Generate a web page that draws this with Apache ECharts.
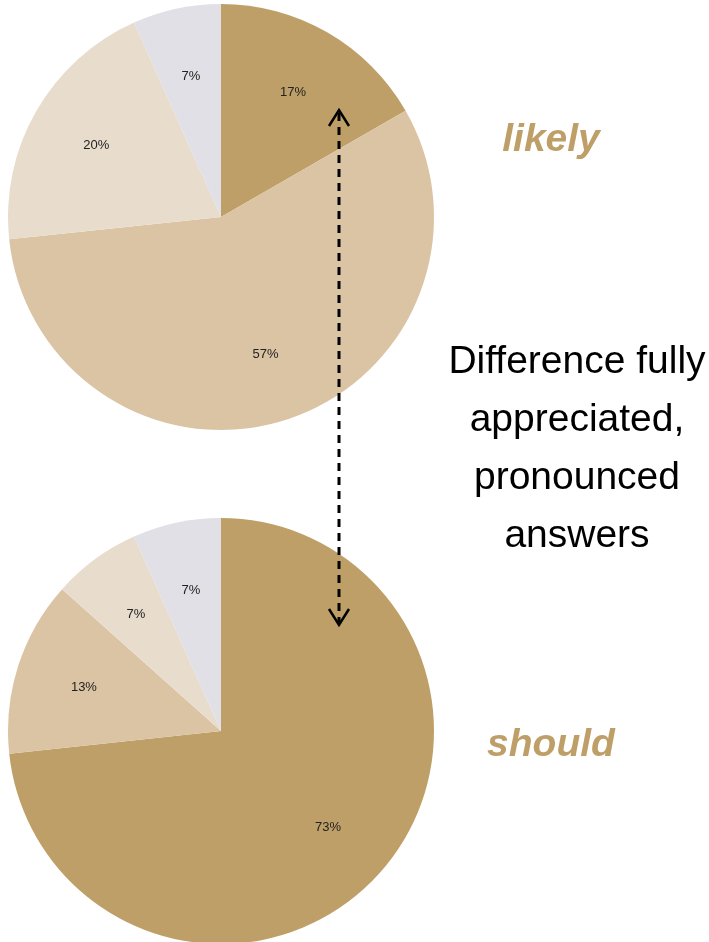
<!DOCTYPE html>
<html><head><meta charset="utf-8">
<script src="https://cdn.jsdelivr.net/npm/echarts@6/dist/echarts.min.js"></script>
<style>html,body{margin:0;padding:0;background:#fff}#c{width:709px;height:942px}</style>
</head><body><div id="c"></div>
<script>
const categories = ['A', 'B', 'C', 'D'];
const likelyValues = [16.7, 56.7, 20, 6.7];
const shouldValues = [73.3, 13.3, 6.7, 6.7];
const sliceColors = ['#BF9F68', '#DBC4A4', '#E8DCCD', '#E0E0E6'];
const noteLines = ['Difference fully', 'appreciated,', 'pronounced', 'answers'];
const titles = ['likely', 'should'];

const chart = echarts.init(document.getElementById('c'));
function pieSeries(vals, cy) {
  return {
    type: 'pie', center: [221, cy], radius: [0, 213], startAngle: 90, clockwise: true,
    animation: false, silent: true, z: 1,
    label: { show: false },
    labelLine: { show: false },
    itemStyle: { borderWidth: 0 },
    data: vals.map((v, i) => ({ name: categories[i], value: v, itemStyle: { color: sliceColors[i] } }))
  };
}
function labelSeries(vals, cy) {
  return {
    type: 'pie', center: [221, cy], radius: [69, 213], startAngle: 90, clockwise: true,
    animation: false, silent: true, z: 2,
    label: { show: true, position: 'inside', formatter: p => Math.round(p.value) + '%', color: '#222', fontSize: 13, fontFamily: '"Liberation Sans", Arial' },
    labelLine: { show: false },
    itemStyle: { color: 'rgba(0,0,0,0)', borderWidth: 0 },
    data: vals.map((v, i) => ({ name: categories[i], value: v }))
  };
}
const ax = 339;
const g = [];
const font = 'italic bold 39px "Liberation Sans", Arial';
g.push({ type: 'text', z: 100, x: 551, y: 140, style: { text: titles[0], fill: '#BF9F68', font: font, align: 'center', verticalAlign: 'middle' } });
g.push({ type: 'text', z: 100, x: 551, y: 745, style: { text: titles[1], fill: '#BF9F68', font: font, align: 'center', verticalAlign: 'middle' } });
noteLines.forEach((t, i) => {
  g.push({ type: 'text', z: 100, x: 577, y: 362 + i * 58, style: { text: t, fill: '#000', font: '39px "Liberation Sans", Arial', align: 'center', verticalAlign: 'middle' } });
});
g.push({ type: 'line', z: 100, shape: { x1: ax, y1: 113, x2: ax, y2: 622 }, style: { stroke: '#000', lineWidth: 3, lineDash: [8, 6] } });
g.push({ type: 'polyline', z: 100, shape: { points: [[ax - 10, 126], [ax, 110], [ax + 10, 126]] }, style: { stroke: '#000', lineWidth: 2.5, fill: null } });
g.push({ type: 'polyline', z: 100, shape: { points: [[ax - 10, 609], [ax, 625], [ax + 10, 609]] }, style: { stroke: '#000', lineWidth: 2.5, fill: null } });

chart.setOption({
  animation: false,
  series: [pieSeries(likelyValues, 217), pieSeries(shouldValues, 731), labelSeries(likelyValues, 217), labelSeries(shouldValues, 731)],
  graphic: g
});
</script></body></html>
